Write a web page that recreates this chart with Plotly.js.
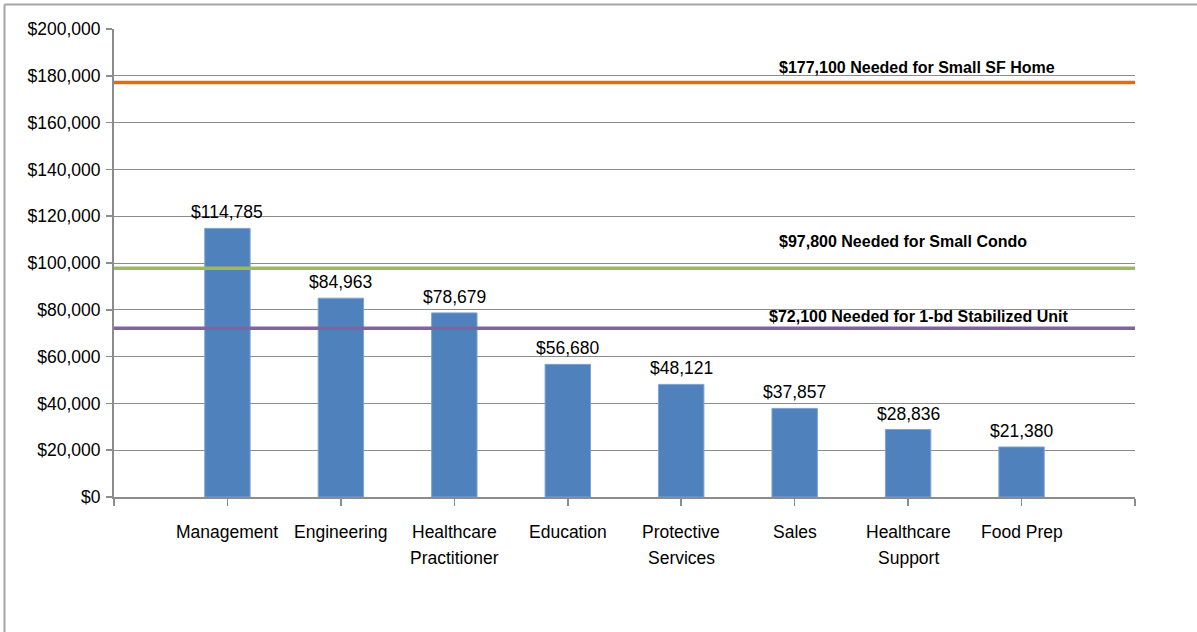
<!DOCTYPE html>
<html>
<head>
<meta charset="utf-8">
<script src="https://cdn.plot.ly/plotly-3.0.1.min.js"></script>
<style>
html,body{margin:0;padding:0;background:#fff;}
#chart{width:1197px;height:632px;}
</style>
</head>
<body>
<div id="chart"></div>
<script>
// ---- data ----
const categories = ['Management', 'Engineering', 'Healthcare\nPractitioner', 'Education',
  'Protective\nServices', 'Sales', 'Healthcare\nSupport', 'Food Prep'];
const medianWages = [114785, 84963, 78679, 56680, 48121, 37857, 28836, 21380];
const thresholdValues = [177100, 97800, 72100];
const thresholdLabels = ['$177,100 Needed for Small SF Home', '$97,800 Needed for Small Condo',
  '$72,100 Needed for 1-bd Stabilized Unit'];
const yTickValues = [0, 20000, 40000, 60000, 80000, 100000, 120000, 140000, 160000, 180000, 200000];

// ---- styles ----
const FONT = 'Liberation Sans, Arial, sans-serif';
const FS = 17.5;
const barColor = '#4F81BD';
const lineColors = ['#E46C0A', '#9BBB59', '#8064A2'];
const gridColor = '#8C8C8C';
const M = {l: 114, r: 62, t: 29, b: 135};
const W = 1197, H = 632;
const plotW = W - M.l - M.r, plotH = H - M.t - M.b;

const xPos = categories.map((c, i) => i + 1);
const nSlots = categories.length + 1;

const traces = [{
  type: 'bar',
  x: xPos,
  y: medianWages,
  width: 0.4,
  marker: {color: barColor, line: {color: '#7EA3D2', width: 1}},
  hoverinfo: 'skip',
  showlegend: false
}];
thresholdValues.forEach((v, i) => {
  traces.push({
    type: 'scatter', mode: 'lines',
    x: [0, nSlots], y: [v, v],
    line: {color: lineColors[i], width: 3.5},
    hoverinfo: 'skip', showlegend: false
  });
});

const annotations = [];
// bar value labels
medianWages.forEach((v, i) => {
  annotations.push({
    x: xPos[i], y: v, xref: 'x', yref: 'y',
    text: '$' + v.toLocaleString('en-US'),
    showarrow: false, yanchor: 'bottom', yshift: 4,
    font: {family: FONT, size: FS, color: '#000'}
  });
});
// category labels (one annotation per line)
categories.forEach((c, i) => {
  c.split('\n').forEach((line, j) => {
    annotations.push({
      x: xPos[i], y: 0, xref: 'x', yref: 'y',
      text: line, showarrow: false, yanchor: 'middle',
      yshift: -35 - 26 * j,
      font: {family: FONT, size: FS, color: '#000'}
    });
  });
});
// threshold labels
const labelPx = [917, 903, 918];
const labelShift = [15, 27, 12];
thresholdValues.forEach((v, i) => {
  annotations.push({
    x: (labelPx[i] - M.l) / plotW * nSlots, y: v, xref: 'x', yref: 'y',
    text: '<b>' + thresholdLabels[i] + '</b>', showarrow: false,
    yanchor: 'middle', yshift: labelShift[i],
    font: {family: FONT, size: 16, color: '#000'}
  });
});

const px2paperX = p => (p - M.l) / plotW;
const px2paperY = p => 1 - (p - M.t) / plotH;

const layout = {
  width: W, height: H,
  margin: M,
  paper_bgcolor: '#fff', plot_bgcolor: '#fff',
  font: {family: FONT, size: FS, color: '#000'},
  xaxis: {
    range: [0, nSlots], tickvals: Array.from({length: nSlots + 1}, (_, i) => i),
    showticklabels: false, ticks: 'outside', ticklen: 7, tickwidth: 1.5, tickcolor: gridColor,
    showgrid: false, zeroline: false, showline: true, linecolor: gridColor, linewidth: 2,
    fixedrange: true
  },
  yaxis: {
    range: [0, 200000], tickvals: yTickValues, tickformat: '$,.0f',
    ticks: 'outside', ticklen: 6, tickwidth: 1.5, tickcolor: gridColor,
    ticklabelstandoff: 2,
    showgrid: true, gridcolor: gridColor, gridwidth: 1,
    zeroline: false, showline: true, linecolor: gridColor, linewidth: 2,
    tickfont: {family: FONT, size: FS, color: '#000'},
    fixedrange: true
  },
  annotations: annotations,
  shapes: [
    {type: 'line', xref: 'paper', yref: 'paper', x0: px2paperX(4.5), x1: px2paperX(1197),
      y0: px2paperY(4.5), y1: px2paperY(4.5), line: {color: '#A6A6A6', width: 2}},
    {type: 'line', xref: 'paper', yref: 'paper', x0: px2paperX(4.5), x1: px2paperX(4.5),
      y0: px2paperY(4.5), y1: px2paperY(632), line: {color: '#A6A6A6', width: 2}}
  ]
};

Plotly.newPlot('chart', traces, layout, {displayModeBar: false, staticPlot: true});
</script>
</body>
</html>
